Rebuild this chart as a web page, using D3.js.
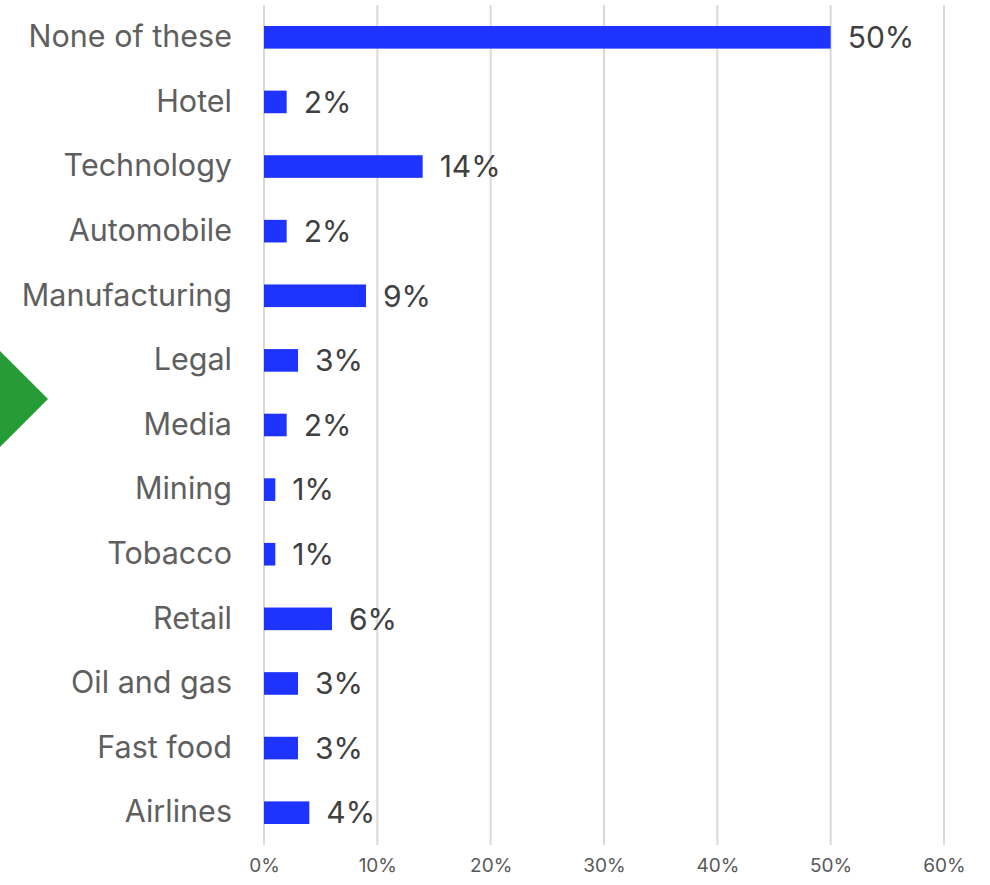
<!DOCTYPE html>
<html>
<head>
<meta charset="utf-8">
<script src="https://cdn.jsdelivr.net/npm/d3@7"></script>
<style>
  html, body { margin: 0; padding: 0; background: #fff; }
  svg { display: block; }
</style>
</head>
<body>
<svg id="chart"></svg>
<script>
const categories = ["None of these", "Hotel", "Technology", "Automobile", "Manufacturing", "Legal", "Media", "Mining", "Tobacco", "Retail", "Oil and gas", "Fast food", "Airlines"];
const values = [50, 2, 14, 2, 9, 3, 2, 1, 1, 6, 3, 3, 4];
const ticks = [0, 10, 20, 30, 40, 50, 60];

const width = 990, height = 885;
const font = "Inter, 'Liberation Sans', sans-serif";
const svg = d3.select("#chart").attr("width", width).attr("height", height);

const x = d3.scaleLinear().domain([0, 60]).range([264, 944]);
const y = d3.scaleBand().domain(categories).range([5, 845]).paddingInner(0.65).paddingOuter(0.325);

// gridlines
svg.append("g")
  .selectAll("line")
  .data(ticks)
  .join("line")
  .attr("x1", d => x(d)).attr("x2", d => x(d))
  .attr("y1", 5).attr("y2", 845)
  .attr("stroke", "#d9d9d9")
  .attr("stroke-width", 2);

// x axis labels
const xAxis = d3.axisBottom(x).tickValues(ticks).tickFormat(d => d + "%").tickSize(0).tickPadding(0);
const gx = svg.append("g").attr("transform", "translate(0,862)").call(xAxis);
gx.select(".domain").remove();
gx.selectAll("text")
  .attr("font-family", font)
  .attr("font-size", 19)
  .attr("fill", "#595959")
  .attr("dy", "0.5em");

// category labels
const yAxis = d3.axisLeft(y).tickSize(0).tickPadding(0);
const gy = svg.append("g").attr("transform", "translate(232,0)").call(yAxis);
gy.select(".domain").remove();
gy.selectAll("text")
  .attr("font-family", font)
  .attr("font-size", 30.5)
  .attr("fill", "#5f5f5f");

// bars
const data = categories.map((c, i) => ({ name: c, value: values[i] }));
svg.append("g")
  .selectAll("rect")
  .data(data)
  .join("rect")
  .attr("x", x(0))
  .attr("y", d => y(d.name))
  .attr("width", d => x(d.value) - x(0))
  .attr("height", y.bandwidth())
  .attr("fill", "#1f33ff");

// value labels
svg.append("g")
  .selectAll("text")
  .data(data)
  .join("text")
  .attr("x", d => x(d.value) + 17)
  .attr("y", d => y(d.name) + y.bandwidth() / 2)
  .attr("dy", "0.36em")
  .attr("font-family", font)
  .attr("font-size", 30)
  .attr("fill", "#404040")
  .text(d => d.value + "%");

// green marker arrow
svg.append("path")
  .attr("d", "M0,351 L48,399 L0,447 Z")
  .attr("fill", "#269c36");
</script>
</body>
</html>
